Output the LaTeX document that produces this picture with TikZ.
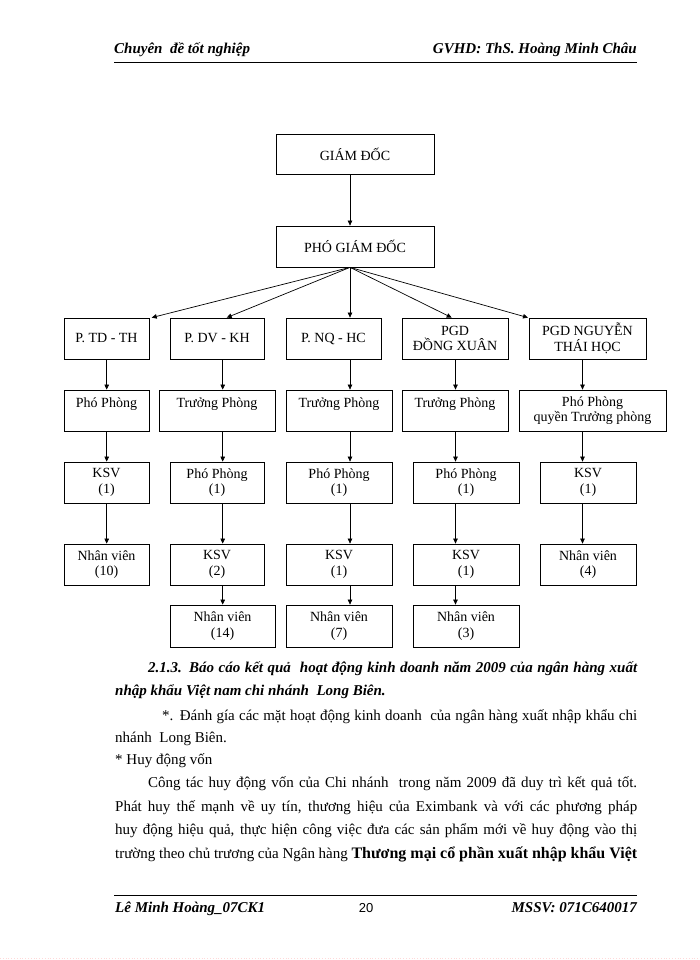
\documentclass[tikz,border=0pt]{standalone}
\usepackage{fontspec}
\setmainfont{Liberation Serif}
\newfontfamily\sansf{Liberation Sans}
\usetikzlibrary{arrows.meta}
\begin{document}
\begin{tikzpicture}[x=1pt,y=-1pt,
  box/.style={draw, line width=0.75pt, inner sep=0pt, align=center,
    font=\fontsize{14}{15.5}\selectfont},
  arr/.style={line width=0.7pt, -{Triangle[length=5pt,width=4.5pt]}},
  body/.style={anchor=base west, inner sep=0pt, font=\fontsize{15}{18}\selectfont},
  hdr/.style={inner sep=0pt, font=\fontsize{15}{17}\selectfont\bfseries\itshape},
]
\useasboundingbox (0,0) rectangle (700,960);
\fill[white] (0,0) rectangle (700,960);

% header
\node[hdr, anchor=base west] (hl) at (114,54) {Chuyên\ \ đề tốt nghiệp};
\node[hdr, anchor=base east] (hr) at (637,54) {GVHD: ThS. Hoàng Minh Châu};
\draw[line width=1.2pt] (114,62.5) -- (637,62.5);

% column x coordinates
\coordinate (cx1) at (106.7,0);
\coordinate (cx2) at (222.7,0);
\coordinate (cx3) at (350,0);
\coordinate (cx4) at (455.5,0);
\coordinate (cx5) at (582.5,0);
\coordinate (t1) at (151.7,0);
\coordinate (t2) at (226.7,0);
\coordinate (t4) at (451.7,0);
\coordinate (t5) at (528,0);

% top boxes
\node[box, minimum width=158pt, minimum height=40pt] (gd) at (355,154) {GIÁM ĐỐC};
\node[box, minimum width=158pt, minimum height=41pt] (pgd) at (355,246.5) {PHÓ GIÁM ĐỐC};

% row 1
\node[box, minimum width=85pt, minimum height=41pt] (r1c1) at (106.5,338.5) {P. TD - TH};
\node[box, minimum width=94pt, minimum height=41pt] (r1c2) at (217,338.5) {P. DV - KH};
\node[box, minimum width=95pt, minimum height=41pt] (r1c3) at (333.5,338.5) {P. NQ - HC};
\node[box, minimum width=106pt, minimum height=41pt] (r1c4) at (455,338.5) {PGD\\ĐỒNG XUÂN};
\node[box, minimum width=117pt, minimum height=41pt] (r1c5) at (587.5,338.5) {PGD NGUYỄN\\THÁI HỌC};

% row 2
\node[box, minimum width=85pt, minimum height=41pt] (r2c1) at (106.5,410.5) {Phó Phòng\\\mbox{}};
\node[box, minimum width=116pt, minimum height=41pt] (r2c2) at (217,410.5) {Trưởng Phòng\\\mbox{}};
\node[box, minimum width=106pt, minimum height=41pt] (r2c3) at (339,410.5) {Trưởng Phòng\\\mbox{}};
\node[box, minimum width=106pt, minimum height=41pt] (r2c4) at (455,410.5) {Trưởng Phòng\\\mbox{}};
\node[box, minimum width=147pt, minimum height=41pt] (r2c5) at (592.5,410.5) {Phó Phòng\\quyền Trưởng phòng};

% row 3
\node[box, minimum width=85pt, minimum height=41pt] (r3c1) at (106.5,482.5) {KSV\\(1)};
\node[box, minimum width=94pt, minimum height=41pt] (r3c2) at (217,482.5) {Phó Phòng\\(1)};
\node[box, minimum width=106pt, minimum height=41pt] (r3c3) at (339,482.5) {Phó Phòng\\(1)};
\node[box, minimum width=106pt, minimum height=41pt] (r3c4) at (466,482.5) {Phó Phòng\\(1)};
\node[box, minimum width=96pt, minimum height=41pt] (r3c5) at (588,482.5) {KSV\\(1)};

% row 4
\node[box, minimum width=85pt, minimum height=41pt] (r4c1) at (106.5,564.5) {Nhân viên\\(10)};
\node[box, minimum width=94pt, minimum height=41pt] (r4c2) at (217,564.5) {KSV\\(2)};
\node[box, minimum width=106pt, minimum height=41pt] (r4c3) at (339,564.5) {KSV\\(1)};
\node[box, minimum width=106pt, minimum height=41pt] (r4c4) at (466,564.5) {KSV\\(1)};
\node[box, minimum width=96pt, minimum height=41pt] (r4c5) at (588,564.5) {Nhân viên\\(4)};

% row 5
\node[box, minimum width=105pt, minimum height=42pt] (r5c2) at (222.5,626) {Nhân viên\\(14)};
\node[box, minimum width=106pt, minimum height=42pt] (r5c3) at (339,626) {Nhân viên\\(7)};
\node[box, minimum width=106pt, minimum height=42pt] (r5c4) at (466,626) {Nhân viên\\(3)};

% connectors
\draw[arr] (gd.south -| cx3) -- (pgd.north -| cx3);
\draw[arr] (pgd.south -| cx3) -- (r1c1.north -| t1);
\draw[arr] (pgd.south -| cx3) -- (r1c2.north -| t2);
\draw[arr] (pgd.south -| cx3) -- (r1c3.north -| cx3);
\draw[arr] (pgd.south -| cx3) -- (r1c4.north -| t4);
\draw[arr] (pgd.south -| cx3) -- (r1c5.north -| t5);

\draw[arr] (r1c1.south -| cx1) -- (r2c1.north -| cx1);
\draw[arr] (r2c1.south -| cx1) -- (r3c1.north -| cx1);
\draw[arr] (r3c1.south -| cx1) -- (r4c1.north -| cx1);

\draw[arr] (r1c2.south -| cx2) -- (r2c2.north -| cx2);
\draw[arr] (r2c2.south -| cx2) -- (r3c2.north -| cx2);
\draw[arr] (r3c2.south -| cx2) -- (r4c2.north -| cx2);
\draw[arr] (r4c2.south -| cx2) -- (r5c2.north -| cx2);

\draw[arr] (r1c3.south -| cx3) -- (r2c3.north -| cx3);
\draw[arr] (r2c3.south -| cx3) -- (r3c3.north -| cx3);
\draw[arr] (r3c3.south -| cx3) -- (r4c3.north -| cx3);
\draw[arr] (r4c3.south -| cx3) -- (r5c3.north -| cx3);

\draw[arr] (r1c4.south -| cx4) -- (r2c4.north -| cx4);
\draw[arr] (r2c4.south -| cx4) -- (r3c4.north -| cx4);
\draw[arr] (r3c4.south -| cx4) -- (r4c4.north -| cx4);
\draw[arr] (r4c4.south -| cx4) -- (r5c4.north -| cx4);

\draw[arr] (r1c5.south -| cx5) -- (r2c5.north -| cx5);
\draw[arr] (r2c5.south -| cx5) -- (r3c5.north -| cx5);
\draw[arr] (r3c5.south -| cx5) -- (r4c5.north -| cx5);

% body text
\node[body, font=\fontsize{15}{18}\selectfont\bfseries\itshape] (b1) at (148,672)
  {\makebox[489pt][s]{2.1.3. Báo cáo kết quả\ \ hoạt động kinh doanh năm 2009 của ngân hàng xuất}};
\node[body, font=\fontsize{15}{18}\selectfont\bfseries\itshape] (b2) at (115,695)
  {nhập khẩu Việt nam chi nhánh\ \ Long Biên.};
\node[body] (b3) at (162,720)
  {\makebox[475pt][s]{*. Đánh gía các mặt hoạt động kinh doanh\ \ của ngân hàng xuất nhập khẩu chi}};
\node[body] (b4) at (115,742) {nhánh\ \ Long Biên.};
\node[body] (b5) at (115,764) {* Huy động vốn};
\node[body] (b6) at (148,787)
  {\makebox[489pt][s]{Công tác huy động vốn của Chi nhánh\ \ trong năm 2009 đã duy trì kết quả tốt.}};
\node[body] (b7) at (115,811)
  {\makebox[522pt][s]{Phát huy thế mạnh về uy tín, thương hiệu của Eximbank và với các phương pháp}};
\node[body] (b8) at (115,834)
  {\makebox[522pt][s]{huy động hiệu quả, thực hiện công việc đưa các sản phẩm mới về huy động vào thị}};
\node[body] (b9) at (115,858)
  {\makebox[522pt][s]{trường theo chủ trương của Ngân hàng {\fontsize{16}{18}\selectfont\bfseries Thương mại cổ phần xuất nhập khẩu Việt}}};

% footer
\draw[line width=1pt] (114,895.5) -- (637,895.5);
\node[hdr, anchor=base west] (fl) at (115,912) {Lê Minh Hoàng\_07CK1};
\node[inner sep=0pt, anchor=base, font=\fontsize{13}{15}\sansf] (fc) at (366,912) {20};
\node[hdr, anchor=base east] (fr) at (637,912) {MSSV: 071C640017};
\draw[pink!60, dotted, line width=0.8pt] (0,958) -- (700,958);
\end{tikzpicture}
\end{document}
